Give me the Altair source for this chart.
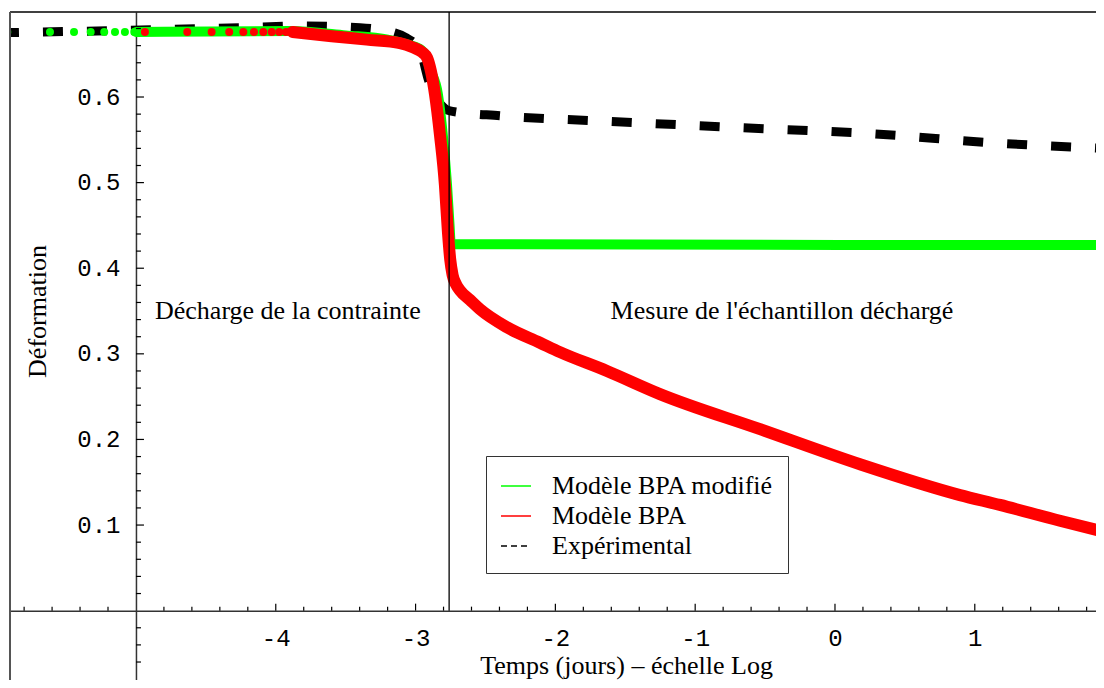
import altair as alt
import pandas as pd

# ---------------- data ----------------
SERIES = ["Modèle BPA modifié", "Modèle BPA", "Expérimental"]
COLORS = ["#00ff00", "#ff0000", "#000000"]
LEGEND_DASH = [[1, 0], [1, 0], [6, 4]]

# Modèle BPA modifié (green)
GREEN_DOT_X = [-5.92, -5.615, -5.443, -5.324, -5.227, -5.150, -5.079, -5.012]
GREEN_DOT_Y = [0.676, 0.676, 0.676, 0.676, 0.676, 0.676, 0.676, 0.676]
GREEN_X = [-5.0, -3.9, -3.5, -3.2, -3.05, -2.96, -2.925, -2.895, -2.84, -2.805,
           -2.775, -2.757, -2.748, 1.93]
GREEN_Y = [0.676, 0.677, 0.672, 0.667, 0.661, 0.655, 0.648, 0.632, 0.603, 0.555,
           0.497, 0.45, 0.428, 0.427]

# Modèle BPA (red)
RED_DOT_X = [-4.936, -4.633, -4.459, -4.333, -4.232, -4.156, -4.089, -4.029,
             -3.975, -3.927, -3.879]
RED_DOT_Y = [0.676, 0.676, 0.676, 0.676, 0.676, 0.676, 0.676, 0.676,
             0.676, 0.676, 0.676]
RED_X = [-3.879, -3.60, -3.35, -3.112, -3.019, -2.95, -2.918, -2.89, -2.861,
         -2.825, -2.790, -2.768, -2.752, -2.735, -2.71, -2.682, -2.611, -2.539,
         -2.346, -2.110, -1.967, -1.631, -1.252, -0.536, 0.179, 0.894, 1.18,
         1.609, 1.93]
RED_Y = [0.676, 0.671, 0.667, 0.663, 0.658, 0.652, 0.646, 0.630, 0.603,
         0.555, 0.497, 0.441, 0.410, 0.392, 0.381, 0.374, 0.363, 0.352,
         0.331, 0.313, 0.302, 0.280, 0.253, 0.212, 0.171, 0.135, 0.1235,
         0.105, 0.092]

# Expérimental (black dashed)
EXP_X = [-5.98, -5.043, -4.256, -3.827, -3.398, -3.15, -3.076, -2.969, -2.904,
         -2.85, -2.80, -2.761, -2.396, -1.681, -0.780, 0.272, 1.180, 1.924]
EXP_Y = [0.675, 0.678, 0.681, 0.683, 0.681, 0.675, 0.670, 0.655, 0.618,
         0.598, 0.588, 0.584, 0.578, 0.572, 0.565, 0.557, 0.546, 0.540]

# annotations
ANNOT_TEXT = ["Décharge de la contrainte", "Mesure de l'échantillon déchargé"]
ANNOT_X = [-3.913, -0.379]
ANNOT_Y = [0.341, 0.341]

# vertical separator (log time of the unloading)
VLINE_X = [-2.76]

# axes ticks
XMAJ = [-4, -3, -2, -1, 0, 1]
XMINOR = [-5.8, -5.6, -5.4, -5.2, -4.8, -4.6, -4.4, -4.2, -3.8, -3.6, -3.4, -3.2,
          -2.8, -2.6, -2.4, -2.2, -1.8, -1.6, -1.4, -1.2, -0.8, -0.6, -0.4, -0.2,
          0.2, 0.4, 0.6, 0.8, 1.2, 1.4, 1.6, 1.8]
YMAJ = [0.1, 0.2, 0.3, 0.4, 0.5, 0.6]
YMINOR = [-0.06, -0.04, -0.02, 0.02, 0.04, 0.06, 0.08,
          0.12, 0.14, 0.16, 0.18, 0.22, 0.24, 0.26, 0.28,
          0.32, 0.34, 0.36, 0.38, 0.42, 0.44, 0.46, 0.48,
          0.52, 0.54, 0.56, 0.58, 0.62, 0.64, 0.66, 0.68]

# ---------------- layout ----------------
W, H = 1086, 668
XMIN, XMAX = -5.901, 1.867
YMIN, YMAX = -0.0810, 0.6993
X0, Y0 = -5.0, 0.0  # where the axes cross
x0px = (X0 - XMIN) / (XMAX - XMIN) * W
y0px = (YMAX - Y0) / (YMAX - YMIN) * H

SERIF = "Liberation Serif"
MONO = "Liberation Mono"

SX = alt.Scale(domain=[XMIN, XMAX], nice=False, zero=False)
SY = alt.Scale(domain=[YMIN, YMAX], nice=False, zero=False)

AX = alt.Axis(
    orient="bottom", offset=-(H - y0px), values=XMAJ,
    labelExpr="toString(datum.value)", ticks=False, tickSize=0, grid=False,
    domain=True, domainColor="#333333", domainWidth=1.5,
    labelFont=MONO, labelFontSize=24, labelColor="#000000",
    labelBaseline="alphabetic", labelPadding=35, labelFlush=False, labelOverlap=False,
    title="Temps (jours) – échelle Log", titleFont=SERIF, titleFontSize=26,
    titleFontWeight="normal", titleColor="#000000",
    titleX=616, titleY=62.5, titleAlign="center", titleBaseline="alphabetic",
)
AY = alt.Axis(
    orient="left", offset=-x0px, values=YMAJ,
    labelExpr="format(datum.value, '.1f')", ticks=False, tickSize=0, grid=False,
    domain=True, domainColor="#333333", domainWidth=1.5,
    labelFont=MONO, labelFontSize=24, labelColor="#000000",
    labelAlign="right", labelBaseline="middle", labelPadding=16, labelOverlap=False,
    title="Déformation", titleFont=SERIF, titleFontSize=26,
    titleFontWeight="normal", titleColor="#000000", titleAngle=270,
    titleX=-90, titleY=299, titleAlign="center", titleBaseline="alphabetic",
)


def X(field):
    return alt.X(field, type="quantitative", scale=SX, axis=AX)


def Y(field):
    return alt.Y(field, type="quantitative", scale=SY, axis=AY)


LEG = alt.Legend(
    title=None, orient="none", legendX=476, legendY=444,
    fillColor="#ffffff", strokeColor="#333333", padding=14,
    symbolType="stroke", symbolSize=900, symbolStrokeWidth=1.5,
    labelFont=SERIF, labelFontSize=26, labelColor="#000000", labelOffset=20,
    labelLimit=500, rowPadding=1,
)
COLOR = alt.Color("serie:N", scale=alt.Scale(domain=SERIES, range=COLORS), legend=LEG)
DASH = alt.StrokeDash("serie:N", scale=alt.Scale(domain=SERIES, range=LEGEND_DASH), legend=LEG)

# ---------------- tables ----------------
df_exp = pd.DataFrame({"x": EXP_X, "y": EXP_Y, "serie": SERIES[2]})
df_green = pd.DataFrame({"x": GREEN_X, "y": GREEN_Y, "serie": SERIES[0]})
df_red = pd.DataFrame({"x": RED_X, "y": RED_Y, "serie": SERIES[1]})
df_all = pd.concat([df_green, df_red, df_exp], ignore_index=True)
df_gdot = pd.DataFrame({"x": GREEN_DOT_X, "y": GREEN_DOT_Y})
df_rdot = pd.DataFrame({"x": RED_DOT_X, "y": RED_DOT_Y})
df_text = pd.DataFrame({"x": ANNOT_X, "y": ANNOT_Y, "t": ANNOT_TEXT})
df_v = pd.DataFrame({"x": VLINE_X})
df_xmaj = pd.DataFrame({"x": XMAJ})
df_xmin = pd.DataFrame({"x": XMINOR})
df_ymaj = pd.DataFrame({"y": YMAJ})
df_ymin = pd.DataFrame({"y": YMINOR})

# ---------------- layers ----------------
exp_line = alt.Chart(df_exp).mark_line(
    strokeWidth=9, strokeDash=[20, 24], strokeCap="butt", interpolate="monotone", clip=True
).encode(x=X("x"), y=Y("y"), color=COLOR)

green_dots = alt.Chart(df_gdot).mark_circle(
    size=64, color="#00ff00", opacity=1, clip=True
).encode(x=X("x"), y=Y("y"))

green_line = alt.Chart(df_green).mark_line(
    strokeWidth=10, strokeCap="round", strokeJoin="round", interpolate="monotone", clip=True
).encode(x=X("x"), y=Y("y"), color=COLOR)

red_dots = alt.Chart(df_rdot).mark_circle(
    size=64, color="#ff0000", opacity=1, clip=True
).encode(x=X("x"), y=Y("y"))

red_line = alt.Chart(df_red).mark_line(
    strokeWidth=12, strokeCap="round", strokeJoin="round", interpolate="monotone", clip=True
).encode(x=X("x"), y=Y("y"), color=COLOR)

# legend-only layer (draws nothing, carries the dash style of the legend keys)
legend_layer = alt.Chart(df_all).mark_line(strokeWidth=1.5).encode(
    x=X("x"), y=Y("y"), color=COLOR, strokeDash=DASH
).transform_filter("false")

vline = alt.Chart(df_v).mark_rule(color="#000000", strokeWidth=1.3).encode(
    x=X("x"), y=alt.YDatum(0, scale=SY, axis=AY), y2=alt.value(0)
)

xtick_major = alt.Chart(df_xmaj).mark_rule(color="#000000", strokeWidth=1.2, y2Offset=-7).encode(
    x=X("x"), y=alt.YDatum(0, scale=SY, axis=AY), y2=alt.datum(0)
)
xtick_minor = alt.Chart(df_xmin).mark_rule(color="#000000", strokeWidth=1.2, y2Offset=-4).encode(
    x=X("x"), y=alt.YDatum(0, scale=SY, axis=AY), y2=alt.datum(0)
)
ytick_major = alt.Chart(df_ymaj).mark_rule(color="#000000", strokeWidth=1.2, x2Offset=8).encode(
    y=Y("y"), x=alt.XDatum(-5, scale=SX, axis=AX), x2=alt.datum(-5)
)
ytick_minor = alt.Chart(df_ymin).mark_rule(color="#000000", strokeWidth=1.2, x2Offset=5).encode(
    y=Y("y"), x=alt.XDatum(-5, scale=SX, axis=AX), x2=alt.datum(-5)
)

annot = alt.Chart(df_text).mark_text(
    font=SERIF, fontSize=26, color="#000000", align="center", baseline="alphabetic"
).encode(x=X("x"), y=Y("y"), text="t:N")

frame_top = alt.Chart(df_v).mark_rule(color="#000000", strokeWidth=1.5).encode(
    x=alt.value(0), x2=alt.value(W), y=alt.value(0)
)
frame_left = alt.Chart(df_v).mark_rule(color="#555555", strokeWidth=2).encode(
    x=alt.value(0), y=alt.value(0), y2=alt.value(H)
)

chart = alt.layer(
    legend_layer, exp_line, green_dots, green_line, red_dots, red_line,
    vline, xtick_minor, xtick_major, ytick_minor, ytick_major,
    annot, frame_top, frame_left,
).properties(
    width=W, height=H,
    autosize=alt.AutoSizeParams(type="none"),
    padding={"left": 2, "top": 4, "right": 0, "bottom": 0},
    background="#ffffff",
).configure_view(stroke=None)

chart.save("out.html", embed_options={"renderer": "svg", "actions": False})
